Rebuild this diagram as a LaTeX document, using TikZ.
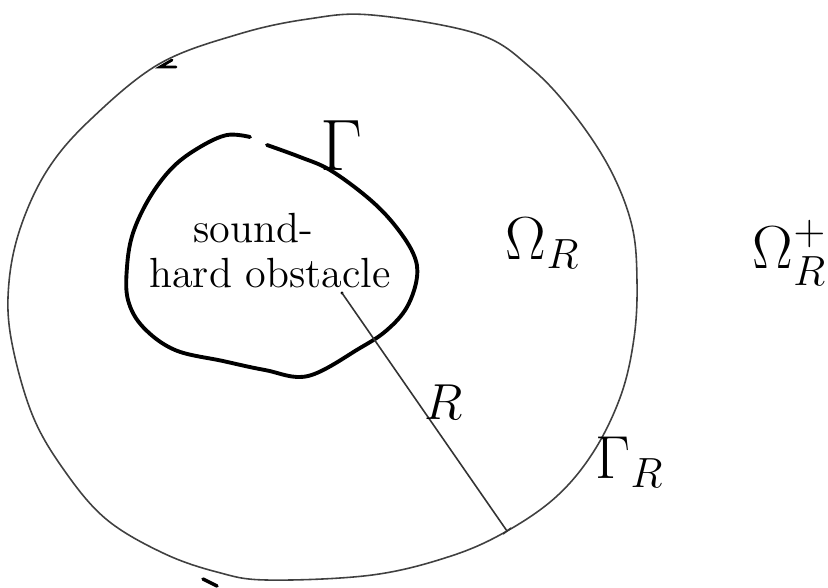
\documentclass[tikz,border=0pt]{standalone}
\usepackage{amsmath,amssymb}
\usepackage{tikz}
\usetikzlibrary{positioning}

\begin{document}
\begin{tikzpicture}[x=0.01cm, y=-0.01cm,
    rim/.style={draw=black!75, line width=0.45pt},
    obstacle/.style={draw, line width=1.1pt, line cap=round},
    txt/.style={inner sep=0pt},
    radius/.style={draw=black!80, line width=0.45pt}
]
    \useasboundingbox (0,0) rectangle (828,587);

    % Outer circle Gamma_R
    \draw[rim] plot[smooth cycle, tension=0.6] coordinates {
        (372,15) (478,34) (531,68) (573,113) (610,169) (632,226) (637,282)
        (634,338) (621,395) (594,451) (557,496) (507,531) (451,556) (372,575)
        (267,580) (217,572) (163,553) (106,519) (64,470) (32,414) (11,338)
        (9,282) (21,226) (48,169) (90,120) (159,64) (239,34) (308,19)};
    \draw[line width=0.8pt, line cap=round] (172,60) -- (160,67) -- (176,67);
    \draw[line width=1pt, line cap=round] (203,579) -- (217,586);

    % The obstacle
    \draw[obstacle] plot[smooth, tension=0.6] coordinates {
        (267,145) (300,157) (330,170) (367,197) (393,223) (413,253) (417,277)
        (407,307) (387,330) (360,348) (308,376) (265,370) (223,361) (175,350)
        (143,327) (128,300) (127,267) (133,233) (150,197) (173,167) (200,147)
        (227,135) (250,137)};
    \node[txt, anchor=south, font=\fontsize{21}{21}\selectfont] (gam) at (341,171) {$\Gamma$};
    \node[txt, font=\fontsize{12}{14}\selectfont] (snd) at (253,228) {sound-};
    \node[txt, font=\fontsize{12}{14}\selectfont] (obs) at (270,273) {hard obstacle};

    % Radius
    \coordinate (ctr) at (342,293);
    \coordinate (end) at (507,531);
    \fill (ctr) circle (1.6);
    \draw[radius] (ctr) -- (end);
    \draw[radius] (end) ++(-4,3) -- ++(8,-6);
    \node[txt, font=\fontsize{14}{14}\selectfont] (rlab) at (444,402) {$R$};

    % Domains and boundary labels
    \node[txt, font=\fontsize{17}{17}\selectfont] (omr) at (543,243) {$\Omega_R$};
    \node[txt, font=\fontsize{17}{17}\selectfont] (omp) at (790,253) {$\Omega_R^{+}$};
    \node[txt, font=\fontsize{18}{18}\selectfont] (gamr) at (630,462) {$\Gamma_R$};
\end{tikzpicture}
\end{document}
